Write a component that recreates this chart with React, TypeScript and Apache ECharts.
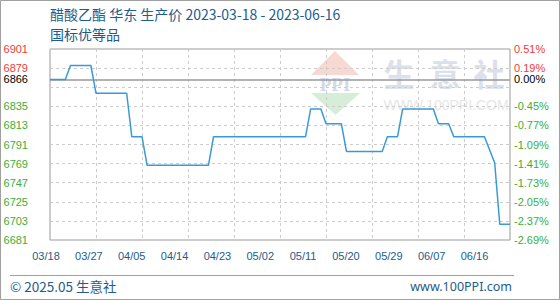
import React, { useEffect, useRef } from 'react';
import * as echarts from 'echarts';

// Daily producer price, East China, ethyl acetate (yuan/ton), 2023-03-18 .. 2023-06-16
const prices: number[] = [
  6866, 6866, 6866, 6866,
  6882, 6882, 6882, 6882, 6882,
  6850, 6850, 6850, 6850, 6850, 6850, 6850,
  6800, 6800, 6800,
  6767, 6767, 6767, 6767, 6767, 6767, 6767, 6767, 6767, 6767, 6767, 6767, 6767,
  6800, 6800, 6800, 6800, 6800, 6800, 6800, 6800, 6800, 6800,
  6800, 6800, 6800, 6800, 6800, 6800, 6800, 6800, 6800,
  6832, 6832, 6832,
  6815, 6815, 6815, 6815,
  6783, 6783, 6783, 6783, 6783, 6783, 6783, 6783,
  6800, 6800, 6800,
  6832, 6832, 6832, 6832, 6832, 6832, 6832,
  6815, 6815, 6815,
  6800, 6800, 6800, 6800, 6800, 6800, 6800,
  6785, 6770,
  6699, 6699, 6699,
];

const tickDates: string[] = ['03/18', '03/27', '04/05', '04/14', '04/23', '05/02', '05/11', '05/20', '05/29', '06/07', '06/16'];
const basePrice = 6866;
const axisMin = 6681;
const axisMax = 6901;
const labelLevels: number[] = [6681, 6703, 6725, 6747, 6769, 6791, 6813, 6835, 6866, 6879, 6901];
const gridSteps = 10;

const titleLine1 = '醋酸乙酯 华东 生产价 2023-03-18 - 2023-06-16';
const titleLine2 = '国标优等品';
const footerLeft = '© 2025.05 生意社';
const footerRight = 'www.100PPI.com';

const RED = '#f03a3a';
const GREEN = '#3aae3a';
const BLUE_TEXT = '#1d5c8c';
const CJK = '"Noto Sans CJK SC", "Noto Sans", sans-serif';
const NUM = '"Liberation Sans", Arial, sans-serif';

const levelColor = (v: number) => (v > basePrice ? RED : v === basePrice ? '#000' : GREEN);

export default function App() {
  const ref = useRef<HTMLDivElement>(null);

  useEffect(() => {
    if (!ref.current) return;
    const chart = echarts.init(ref.current, undefined, { renderer: 'svg' });
    const seriesData = prices.map((p, i) => [i, p]);

    chart.setOption({
      animation: false,
      backgroundColor: '#fff',
      grid: [
        {
          left: 50, right: 50, top: 49, bottom: 60, show: true, borderColor: '#9a9a9a', borderWidth: 1,
          containLabel: false, outerBoundsMode: 'none',
        },
        { left: 46, right: 85.5, top: 49, bottom: 60, show: false, containLabel: false, outerBoundsMode: 'none' },
      ],
      xAxis: [
        {
          type: 'value', gridIndex: 0, min: 0, max: prices.length - 1, interval: 9,
          axisLine: { show: false }, axisTick: { show: false }, axisLabel: { show: false },
          splitLine: { show: true, lineStyle: { color: '#cccccc', type: [3, 3], width: 1 } },
        },
        {
          type: 'value', gridIndex: 1, min: 0, max: (tickDates.length - 1) * 9, interval: 9,
          axisLine: { show: false }, axisTick: { show: false }, splitLine: { show: false },
          axisLabel: {
            show: true, margin: 10, color: BLUE_TEXT, fontSize: 11, fontFamily: NUM,
            showMinLabel: true, showMaxLabel: true, hideOverlap: false,
            formatter: (v: number) => tickDates[Math.round(v / 9)] ?? '',
          },
        },
      ],
      yAxis: [
        {
          type: 'value', gridIndex: 0, min: axisMin, max: axisMax, position: 'left',
          axisLine: { show: false }, axisTick: { show: false }, splitLine: { show: false },
          axisLabel: {
            show: true, customValues: labelLevels, margin: 22, fontSize: 11, fontFamily: NUM,
            color: (v: any) => levelColor(Number(v)),
            formatter: (v: number) => String(v),
          },
        },
        {
          type: 'value', gridIndex: 0, min: axisMin, max: axisMax, position: 'right',
          axisLine: { show: false }, axisTick: { show: false }, splitLine: { show: false },
          axisLabel: {
            show: true, customValues: labelLevels, margin: 4, fontSize: 11, fontFamily: NUM,
            color: (v: any) => levelColor(Number(v)),
            formatter: (v: number) => (((v - basePrice) / basePrice) * 100).toFixed(2) + '%',
          },
        },
        {
          // evenly spaced horizontal guide lines
          type: 'value', gridIndex: 0, min: 0, max: gridSteps, interval: 1,
          axisLine: { show: false }, axisTick: { show: false }, axisLabel: { show: false },
          splitLine: { show: true, lineStyle: { color: '#cccccc', type: [3, 3], width: 1 } },
        },
        { type: 'value', gridIndex: 1, show: false, min: 0, max: 1 },
      ],
      series: [
        {
          type: 'line', xAxisIndex: 0, yAxisIndex: 0, data: seriesData,
          showSymbol: false, symbol: 'none', z: 5,
          lineStyle: { color: '#3a9ad8', width: 1.5 },
          markLine: {
            silent: true, symbol: 'none', label: { show: false },
            lineStyle: { color: '#999999', type: 'solid', width: 1.5 },
            data: [{ yAxis: basePrice }],
          },
        },
      ],
      graphic: [
        {
          type: 'group', z: 1, silent: true,
          children: [
            { type: 'polygon', shape: { points: [[335, 51], [359, 75], [311, 75]] }, style: { fill: '#f7d9d2' } },
            { type: 'polygon', shape: { points: [[311, 93], [360, 93], [335.5, 115]] }, style: { fill: '#d6eed8' } },
            { type: 'text', x: 335, y: 84, style: { text: 'PPI', fill: '#d3dbe9', font: 'bold 19px "Liberation Serif", serif', align: 'center', verticalAlign: 'middle' } },
            { type: 'text', x: 399, y: 72, style: { text: '生', fill: '#dbe0eb', font: `bold 31px ${CJK}`, align: 'center', verticalAlign: 'middle' } },
            { type: 'text', x: 445, y: 72, style: { text: '意', fill: '#dbe0eb', font: `bold 31px ${CJK}`, align: 'center', verticalAlign: 'middle' } },
            { type: 'text', x: 489, y: 72, style: { text: '社', fill: '#dbe0eb', font: `bold 31px ${CJK}`, align: 'center', verticalAlign: 'middle' } },
            { type: 'text', x: 446, y: 105, style: { text: 'WWW.100PPI.COM', fill: '#e6e6e6', font: `14px ${NUM}`, align: 'center', verticalAlign: 'middle' } },
          ],
        },
        { type: 'text', x: 50, y: 14, style: { text: titleLine1, fill: BLUE_TEXT, font: `14px ${CJK}`, lineHeight: 16, verticalAlign: 'middle' } },
        { type: 'text', x: 50, y: 34, style: { text: titleLine2, fill: BLUE_TEXT, font: `14px ${CJK}`, lineHeight: 16, verticalAlign: 'middle' } },
        { type: 'line', shape: { x1: 10, y1: 275.5, x2: 514, y2: 275.5 }, style: { stroke: '#a0a0a0', lineWidth: 1 } },
        { type: 'text', x: 10, y: 286, style: { text: footerLeft, fill: BLUE_TEXT, font: `13.5px ${CJK}`, lineHeight: 16, verticalAlign: 'middle' } },
        { type: 'text', x: 512, y: 286, style: { text: footerRight, fill: BLUE_TEXT, font: '12.5px "Noto Sans", sans-serif', lineHeight: 16, align: 'right', verticalAlign: 'middle' } },
        { type: 'rect', shape: { x: 0.5, y: 0.5, width: 559, height: 299 }, style: { fill: 'none', stroke: '#a0a0a0', lineWidth: 1 } },
      ],
    });

    return () => chart.dispose();
  }, []);

  return <div ref={ref} style={{ position: 'fixed', left: 0, top: 0, width: 560, height: 300 }} />;
}
